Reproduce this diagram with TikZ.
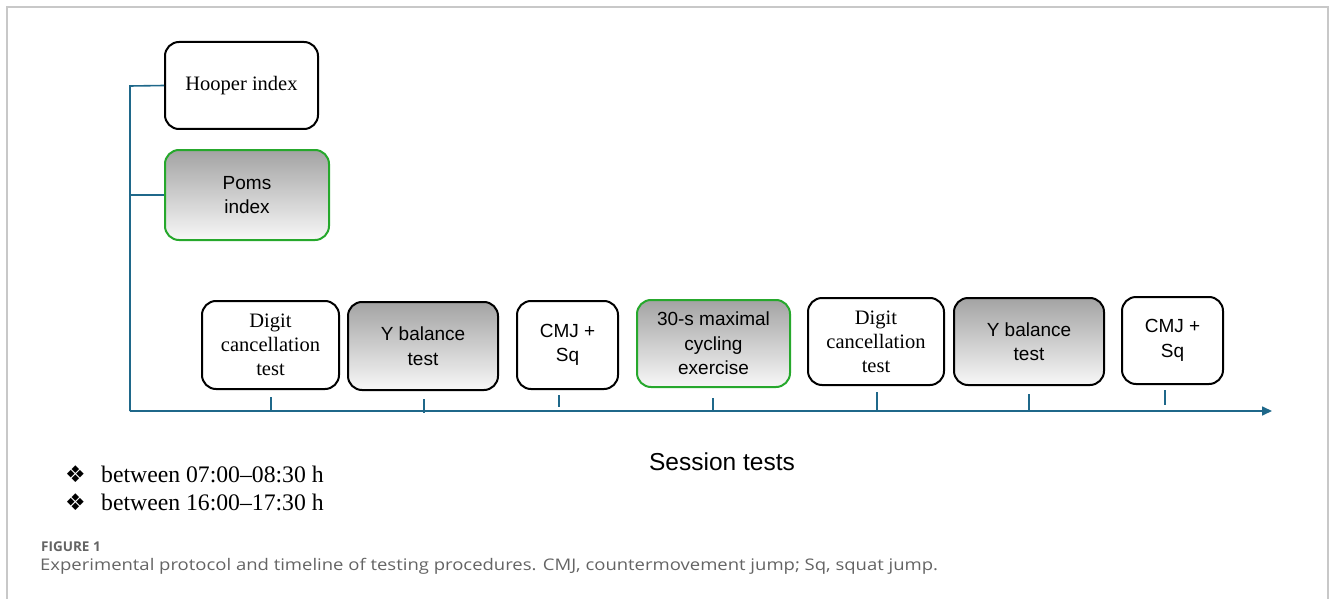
\documentclass[tikz,border=0pt]{standalone}
\usepackage{fontspec}
\setmainfont{Liberation Serif}
\setsansfont{Liberation Sans}
\newfontfamily\symfont{DejaVu Sans}
\newfontfamily\capfont{Open Sans}
\usetikzlibrary{arrows.meta,calc}
\definecolor{axisteal}{RGB}{31,104,138}
\definecolor{boxgreen}{RGB}{38,168,44}
\definecolor{framegray}{RGB}{200,200,200}
\definecolor{capgray}{RGB}{100,100,100}
\newcommand{\slotmark}{\makebox[36pt][l]{\symfont\fontsize{23}{24}\selectfont ❖}}
\tikzset{
  box/.style={draw=black, line width=2pt, rounded corners=14pt, fill=white,
    align=center, inner sep=2pt},
  serifbox/.style={box, font=\rmfamily\fontsize{20.5}{24}\selectfont},
  sansbox/.style={box, font=\sffamily\fontsize{19}{24.5}\selectfont},
  shaded/.style={top color=black!36, bottom color=black!3},
  greenedge/.style={draw=boxgreen},
  timeline/.style={draw=axisteal, line width=1.6pt},
  tick/.style={draw=axisteal, line width=1.6pt},
  slot/.style={anchor=west, inner sep=0pt, font=\rmfamily\fontsize{23.7}{26}\selectfont},
}
\begin{document}
\begin{tikzpicture}[x=1pt,y=-1pt]
\useasboundingbox (0,0) rectangle (1330,599);
% outer frame
\draw[framegray, line width=1.5pt] (7,599) -- (7,7) -- (1328,7) -- (1328,599);

% questionnaires
\node[serifbox, minimum width=153pt, minimum height=87pt] (hooper) at (241.5,85.5) {Hooper index};
\node[sansbox, shaded, greenedge, minimum width=164pt, minimum height=90pt] (poms) at (247,195) {Poms\\index};

% session tests
\node[serifbox, minimum width=137pt, minimum height=88pt] (dig1) at (270.5,345) {Digit\\cancellation\\test};
\node[sansbox, shaded, minimum width=150pt, minimum height=88pt] (yb1) at (423,346) {Y balance\\test};
\node[sansbox, minimum width=101pt, minimum height=88pt] (cmj1) at (567.5,345) {CMJ +\\Sq};
\node[sansbox, shaded, greenedge, minimum width=153pt, minimum height=87pt] (cyc) at (713.5,343.5) {30-s maximal\\cycling\\exercise};
\node[serifbox, minimum width=136pt, minimum height=87pt] (dig2) at (876,341.5) {Digit\\cancellation\\test};
\node[sansbox, shaded, minimum width=150pt, minimum height=87pt] (yb2) at (1029,341.5) {Y balance\\test};
\node[sansbox, minimum width=101pt, minimum height=87pt] (cmj2) at (1172.5,340.5) {CMJ +\\Sq};

% timeline
\coordinate (origin) at (130,411);
\coordinate (axisend) at (1272,411);
\coordinate (topend) at (130,86);
\draw[timeline, -{Triangle[length=10pt,width=9pt]}] (origin) -- (axisend);
\draw[timeline] (origin) -- (topend) -- (hooper.west);
\draw[timeline] (origin |- poms.west) -- (poms.west);

% ticks
\foreach \nm/\x/\top/\bot in {dig1/271/397/411, yb1/424/399/413, cmj1/559/395/407, cyc/713/398/411,
    dig2/877/392/411, yb2/1029/394/411, cmj2/1165/390/405}{
  \coordinate (\nm-tt) at (\x,\top);
  \coordinate (\nm-tb) at (\x,\bot);
  \draw[tick] (\nm-tt) -- (\nm-tb);
}

% labels
\node[font=\sffamily\fontsize{24.5}{28}\selectfont] (session) at (722,462) {Session tests};
\node[slot] (slot1) at (65,474) {\slotmark between 07:00–08:30 h};
\node[slot] (slot2) at (65,502) {\slotmark between 16:00–17:30 h};

% caption
\node[anchor=west, inner sep=0pt, text=capgray, font=\capfont\bfseries\fontsize{13.5}{15}\selectfont] (figlabel) at (41,547) {FIGURE 1};
\node[anchor=west, inner sep=0pt, text=capgray, font=\capfont\fontsize{16}{19}\selectfont] (caption) at (40,566)
  {\scalebox{1.155}[1]{Experimental protocol and timeline of testing procedures. CMJ, countermovement jump; Sq, squat jump.}};
\end{tikzpicture}
\end{document}
